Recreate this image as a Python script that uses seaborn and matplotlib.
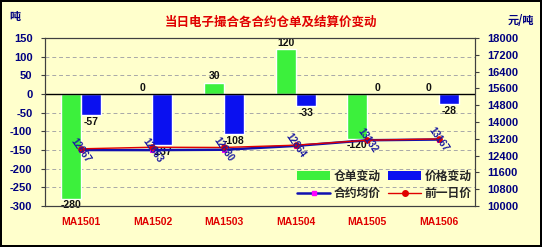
import numpy as np
import pandas as pd
import matplotlib
matplotlib.use("Agg")
import matplotlib.pyplot as plt
import seaborn as sns
from matplotlib.patches import Patch
from matplotlib.lines import Line2D

# ---- data ----
contracts = ["MA1501", "MA1502", "MA1503", "MA1504", "MA1505", "MA1506"]
warrant_change = [-280, 0, 30, 120, -120, 0]          # 仓单变动 (吨)
price_change = [-57, -137, -108, -33, 0, -28]          # 价格变动 (元/吨)
avg_price = [12667, 12663, 12680, 12864, 13132, 13167]  # 合约均价
prev_price = [12724, 12800, 12788, 12897, 13132, 13195]  # 前一日价

title = "当日电子撮合各合约仓单及结算价变动"
series_names = ["仓单变动", "价格变动", "合约均价", "前一日价"]
left_ticks = list(range(-300, 151, 50))
right_ticks = list(range(10000, 18001, 800))

# ---- style ----
sns.set_theme(style="white")
plt.rcParams["font.family"] = ["Liberation Sans", "Noto Sans CJK SC", "DejaVu Sans"]
plt.rcParams["axes.unicode_minus"] = False

bg = "#FFFFCC"
navy = "#000080"
green = "#3CF03C"
blue = "#0A10F0"

fig = plt.figure(figsize=(5.42, 2.47), dpi=100, facecolor=bg)
ax = fig.add_axes([0.083, 0.166, 0.793, 0.680])
ax.set_facecolor(bg)

df = pd.DataFrame({
    "contract": contracts * 2,
    "series": [series_names[0]] * len(contracts) + [series_names[1]] * len(contracts),
    "value": warrant_change + price_change,
})
sns.barplot(data=df, x="contract", y="value", hue="series",
            hue_order=series_names[:2], palette=[green, blue],
            width=0.56, saturation=1, ax=ax, legend=False, zorder=2)

for cont in ax.containers:
    ax.bar_label(cont, fmt="%g", padding=1, fontsize=7.5, fontweight="bold",
                 color="#101010")

ax.set_ylim(-300, 150)
ax.set_yticks(left_ticks)
ax.set_xlim(-0.5, len(contracts) - 0.5)
ax.yaxis.grid(True, linestyle=(0, (4, 3)), color="#A8A8A8", linewidth=0.7)
ax.set_axisbelow(True)
ax.axhline(0, color="black", linewidth=1.0, zorder=3)
ax.set_xlabel("")
ax.set_ylabel("")
for s in ax.spines.values():
    s.set_color("#404040")
    s.set_linewidth(0.8)
ax.tick_params(axis="y", direction="out", length=3, width=0.8, color="#404040",
               labelsize=8, labelcolor=navy, pad=6, left=True)
for t in ax.get_yticklabels():
    t.set_fontweight("bold")
ax.tick_params(axis="x", length=0, labelsize=7.5, labelcolor="#E00000", pad=8)
for t in ax.get_xticklabels():
    t.set_fontweight("bold")

# ---- prices on secondary axis ----
ax2 = ax.twinx()
xs = np.arange(len(contracts))
sns.lineplot(x=xs, y=prev_price, ax=ax2, color="#E00000", linewidth=1.0,
             marker="o", markersize=4, markeredgecolor="#E00000", zorder=4)
sns.lineplot(x=xs, y=avg_price, ax=ax2, color="#1010B0", linewidth=1.8,
             marker="s", markersize=3.5, markerfacecolor="#FF00FF",
             markeredgecolor="#FF00FF", zorder=3)
for xi, v in zip(xs, avg_price):
    ax2.text(xi, v, f"{v}", rotation=-55, ha="center", va="center",
             rotation_mode="anchor", fontsize=7, fontweight="bold",
             color="#1A1AA0", zorder=5)
ax2.set_ylim(10000, 18000)
ax2.set_yticks(right_ticks)
ax2.set_xlim(-0.5, len(contracts) - 0.5)
ax2.tick_params(axis="y", direction="out", length=3, width=0.8, color="#404040",
                labelsize=8, labelcolor=navy, pad=6, right=True)
for t in ax2.get_yticklabels():
    t.set_fontweight("bold")
ax2.grid(False)
for s in ax2.spines.values():
    s.set_color("#404040")
    s.set_linewidth(0.8)

# ---- legend ----
handles = [
    Patch(facecolor=green, edgecolor="none", label=series_names[0]),
    Line2D([], [], color="#1010B0", linewidth=1.8, marker="s", markersize=3.5,
           markerfacecolor="#FF00FF", markeredgecolor="#FF00FF", label=series_names[2]),
    Patch(facecolor=blue, edgecolor="none", label=series_names[1]),
    Line2D([], [], color="#E00000", linewidth=1.0, marker="o", markersize=4,
           label=series_names[3]),
]
ax2.legend(handles=handles, ncol=2, loc="center", bbox_to_anchor=(0.79, 0.125),
           frameon=False, handlelength=2.8, handleheight=0.8,
           columnspacing=0.6, labelspacing=0.4, handletextpad=0.3,
           prop={"weight": "bold", "size": 8.5,
                 "family": ["Noto Sans CJK SC", "DejaVu Sans"]})

# ---- texts ----
fig.text(0.5, 0.91, title, ha="center", va="center", fontsize=9,
         fontweight="bold", color="#E00000",
         family=["Noto Sans CJK SC", "DejaVu Sans"])
fig.text(0.018, 0.935, "吨", ha="left", va="center", fontsize=8,
         fontweight="bold", color=navy, family=["Noto Sans CJK SC", "DejaVu Sans"])
fig.text(0.985, 0.915, "元/吨", ha="right", va="center", fontsize=8,
         fontweight="bold", color=navy, family=["Noto Sans CJK SC", "DejaVu Sans"])

fig.patch.set_edgecolor("black")
fig.patch.set_linewidth(1.5)

fig.savefig("out.png", dpi=100, facecolor=bg, edgecolor="black")
